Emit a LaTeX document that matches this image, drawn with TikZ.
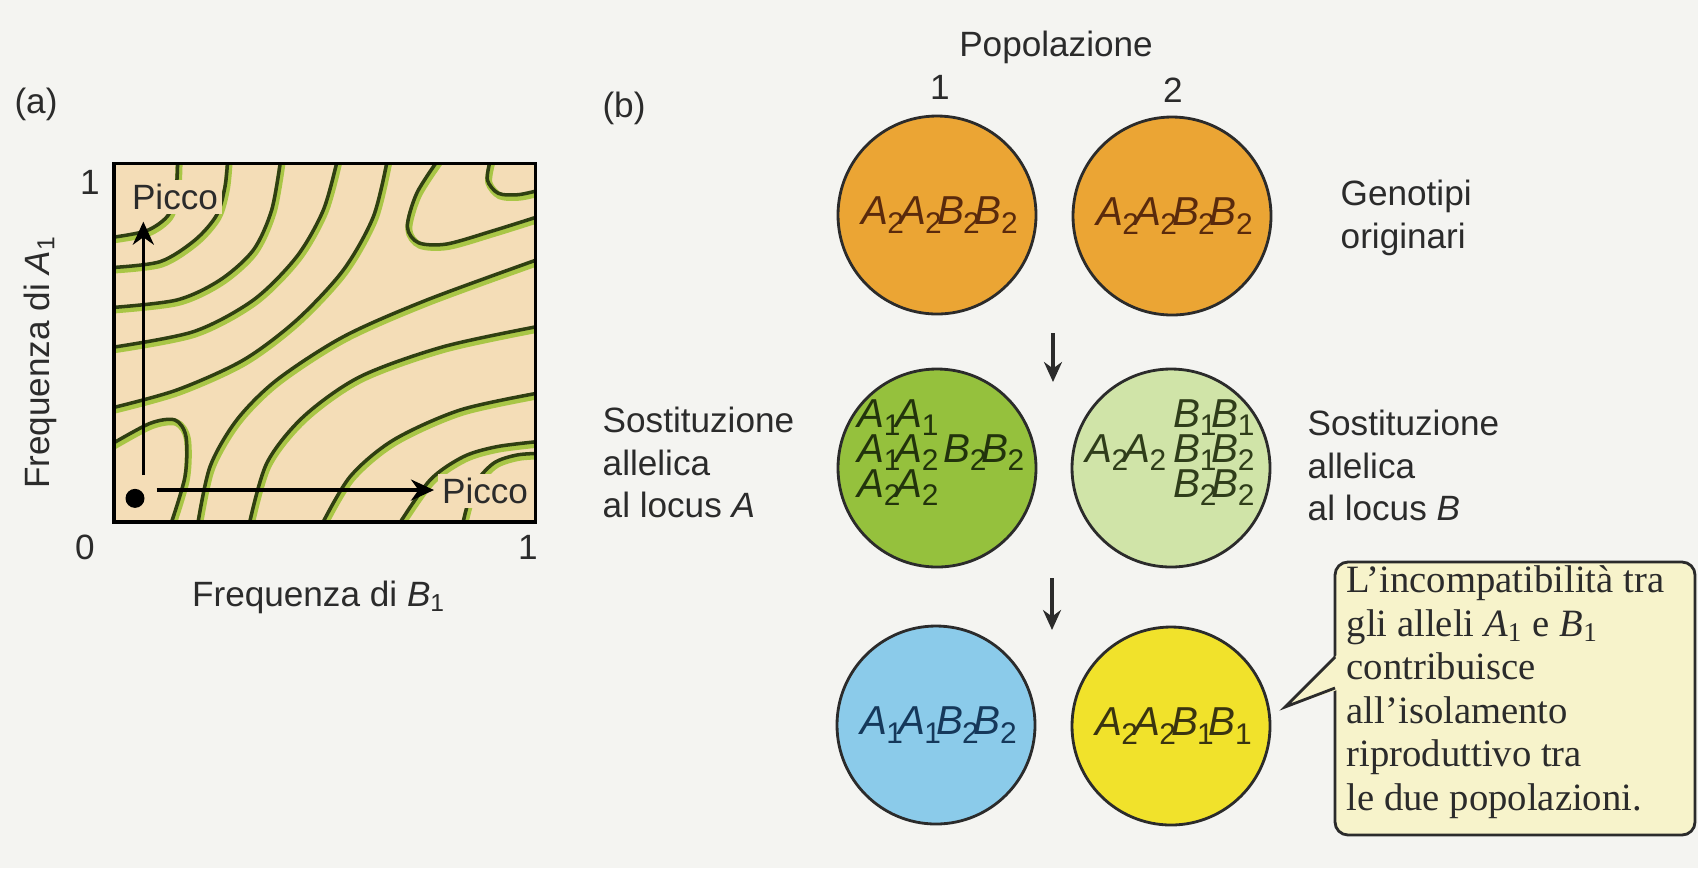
\documentclass[tikz,border=0pt]{standalone}
\usepackage{fontspec}
\setmainfont{Liberation Sans}
\newfontfamily\notefont{Liberation Serif}
\usetikzlibrary{arrows.meta,positioning,calc}
\definecolor{Paper}{HTML}{F4F4F1}
\definecolor{Sand}{HTML}{F4DDB7}
\definecolor{Moss}{HTML}{2F3F12}
\definecolor{Lime}{HTML}{A9C646}
\definecolor{Amber}{HTML}{EBA534}
\definecolor{Leaf}{HTML}{95C13D}
\definecolor{Pale}{HTML}{D0E4A8}
\definecolor{Sky}{HTML}{8BCBEA}
\definecolor{Lemon}{HTML}{F1E22B}
\definecolor{Cream}{HTML}{F7F3CB}
\definecolor{Ink}{HTML}{2B2B2B}
\definecolor{Rust}{HTML}{5A2A0C}
\definecolor{Navy}{HTML}{15385A}
\definecolor{Bark}{HTML}{3A3410}
\definecolor{Forest}{HTML}{22330C}
\definecolor{Fern}{HTML}{2F3D1A}
\newcommand{\al}[2]{\textit{#1}\kern-.02em\raisebox{-.42ex}{\fontsize{8.5}{9}\selectfont #2}\kern-.12em}
\newcommand{\contourline}[1]{\draw[glow] plot[smooth] coordinates {#1};\draw[ridge] plot[smooth] coordinates {#1};}

\begin{document}
\begin{tikzpicture}[>=Stealth,font=\fontsize{10}{12.2}\selectfont,text=Ink,
  pop/.style={circle,draw=Ink,line width=0.8pt,minimum size=1.98cm,inner sep=0pt,font=\fontsize{11.5}{13}\selectfont},
  gen/.style={inner sep=0pt,font=\fontsize{11.5}{13}\selectfont},
  lbl/.style={align=left,inner sep=0pt,anchor=north west},
  down/.style={-{Stealth[length=2mm,width=1.8mm]},line width=0.9pt,Ink},
  peak/.style={-{Stealth[length=2.3mm,width=2.1mm]},line width=1pt,black},
  glow/.style={Lime,line width=2pt,xshift=0.4pt,yshift=-0.7pt},
  ridge/.style={Moss,line width=1pt},
  tag/.style={fill=Sand,inner sep=1.2pt}]
  \fill[Paper] (0,0) rectangle (16.98,-8.68);
  \useasboundingbox (0,0) rectangle (16.98,-8.68);

  \node (pa) at (0.36,-1.04) {(a)};
  \begin{scope}[shift={(1.10,-1.60)},x=0.033333mm,y=-0.033333mm]
    \fill[Sand] (12,10) rectangle (1276,1086);
    \begin{scope}
      \clip (12,10) rectangle (1276,1086);
      \contourline{(0,233) (110,212) (175,165) (198,90) (203,0)}
      \contourline{(0,323) (150,305) (255,240) (320,165) (345,80) (353,0)}
      \contourline{(0,443) (200,420) (330,360) (430,270) (485,150) (512,0)}
      \contourline{(0,563) (250,515) (430,420) (560,290) (640,150) (682,0)}
      \contourline{(0,745) (200,690) (400,600) (560,480) (700,330) (790,170) (832,0)}
      \contourline{(0,855) (120,790) (195,780) (228,830) (225,950) (180,1100)}
      \contourline{(262,1100) (300,920) (380,780) (500,660) (700,530) (950,420) (1290,296)}
      \contourline{(416,1100) (470,910) (580,770) (750,650) (1000,560) (1290,498)}
      \contourline{(632,1100) (720,950) (850,840) (1050,750) (1290,698)}
      \contourline{(862,1100) (960,960) (1060,890) (1160,860) (1290,844)}
      \contourline{(1056,1100) (1090,980) (1150,910) (1220,885) (1290,880)}
      \contourline{(984,0) (920,100) (892,200) (925,248) (1010,252) (1150,212) (1290,168)}
      \contourline{(1141,0) (1132,60) (1165,100) (1225,104) (1290,90)}
    \end{scope}
    \draw[line width=0.9pt] (12,10) rectangle (1276,1086);
    \node[tag] (pk1) at (195,112) {Picco};
    \node[tag] (pk2) at (1125,992) {Picco};
    \node[circle,fill=black,inner sep=0pt,minimum size=1.9mm] (orig) at (75,1015) {};
    \coordinate (up0) at (100,945); \coordinate (up1) at (100,185);
    \coordinate (rt0) at (140,990); \coordinate (rt1) at (972,990);
    \draw[peak] (up0) -- (up1);
    \draw[peak] (rt0) -- (rt1);
  \end{scope}
  \node (y1) at (0.90,-1.82) {1};
  \node (x0) at (0.85,-5.47) {0};
  \node (x1) at (5.28,-5.47) {1};
  \node (xlab) at (3.19,-5.97) {Frequenza di \textit{B}\textsubscript{1}};
  \node[rotate=90] (ylab) at (0.40,-3.62) {Frequenza di \textit{A}\textsubscript{1}};

  \node (pb) at (6.24,-1.08) {(b)};
  \node (popl) at (10.56,-0.47) {Popolazione};
  \node (n1) at (9.40,-0.87) {1};
  \node (n2) at (11.73,-0.90) {2};
  \node[pop,fill=Amber,text=Rust] (o1) at (9.37,-2.15) {\al{A}{2}\al{A}{2}\al{B}{2}\al{B}{2}};
  \node[pop,fill=Amber,text=Rust] (o2) at (11.72,-2.16) {\al{A}{2}\al{A}{2}\al{B}{2}\al{B}{2}};
  \node[pop,fill=Leaf] (s1) at (9.37,-4.68) {};
  \node[pop,fill=Pale] (s2) at (11.71,-4.68) {};
  \node[pop,fill=Sky,text=Navy] (f1) at (9.36,-7.25) {\al{A}{1}\al{A}{1}\al{B}{2}\al{B}{2}};
  \node[pop,fill=Lemon,text=Bark] (f2) at (11.71,-7.26) {\al{A}{2}\al{A}{2}\al{B}{1}\al{B}{1}};

  \node[gen,text=Forest,anchor=base west] (s1a) at (8.57,-4.27) {\al{A}{1}\al{A}{1}};
  \node[gen,text=Forest,anchor=base west] (s1b) at (8.57,-4.62) {\al{A}{1}\al{A}{2}\hspace{0.25em}\al{B}{2}\al{B}{2}};
  \node[gen,text=Forest,anchor=base west] (s1c) at (8.57,-4.97) {\al{A}{2}\al{A}{2}};
  \node[gen,text=Fern,anchor=base west] (s2a) at (11.73,-4.27) {\al{B}{1}\al{B}{1}};
  \node[gen,text=Fern,anchor=base east] (s2b) at (11.62,-4.62) {\al{A}{2}\al{A}{2}};
  \node[gen,text=Fern,anchor=base west] (s2c) at (11.73,-4.62) {\al{B}{1}\al{B}{2}};
  \node[gen,text=Fern,anchor=base west] (s2d) at (11.73,-4.97) {\al{B}{2}\al{B}{2}};

  \node[lbl] (gen0) at (13.40,-1.79) {Genotipi\\originari};
  \node[lbl] (subA) at (6.02,-4.06) {Sostituzione\\allelica\\al locus \textit{A}};
  \node[lbl] (subB) at (13.07,-4.09) {Sostituzione\\allelica\\al locus \textit{B}};

  \coordinate (d1a) at (10.53,-3.33); \coordinate (d1b) at (10.53,-3.82);
  \coordinate (d2a) at (10.52,-5.78); \coordinate (d2b) at (10.52,-6.30);
  \draw[down] (d1a) -- (d1b);
  \draw[down] (d2a) -- (d2b);

  \coordinate (tip) at (12.85,-7.07);
  \draw[fill=Cream,draw=Ink,line width=0.8pt,rounded corners=1.3mm] (13.35,-5.62) rectangle (16.95,-8.35);
  \fill[Cream] (13.37,-6.55) -- (tip) -- (13.37,-6.90) -- cycle;
  \draw[Ink,line width=0.8pt] (13.35,-6.57) -- (tip) -- (13.35,-6.88);
  \node[lbl,font=\notefont\fontsize{11}{12.4}\selectfont] (note) at (13.46,-5.65) {L’incompatibilità tra\\gli alleli \textit{A}\textsubscript{1} e \textit{B}\textsubscript{1}\\contribuisce\\all’isolamento\\riproduttivo tra\\le due popolazioni.};
\end{tikzpicture}
\end{document}
